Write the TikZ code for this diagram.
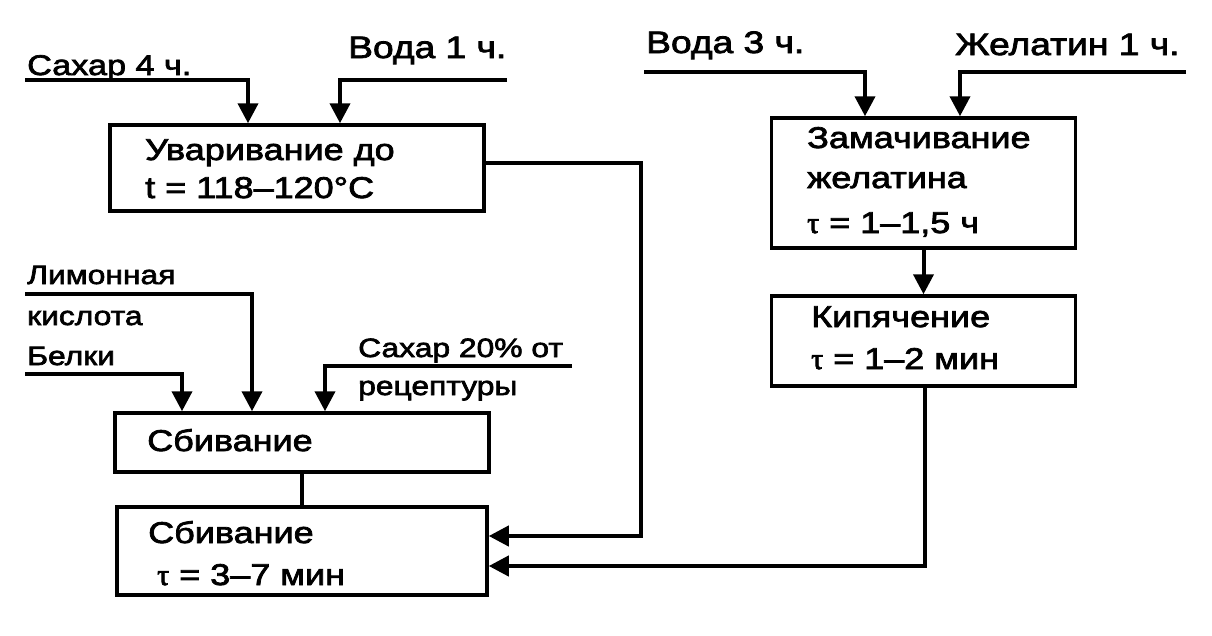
\documentclass[tikz,border=0pt]{standalone}
\usepackage{fontspec}
\setmainfont{Liberation Sans}[FakeStretch=1.2,FakeBold=2.5]
\newfontfamily\taufont{Liberation Serif}[FakeBold=2.5]
\usetikzlibrary{arrows.meta}
\newcommand{\tauchar}{{\taufont τ}}
\begin{document}
\begin{tikzpicture}[x=1pt,y=-1pt,
  box/.style={draw,rectangle,line width=3.5pt,inner sep=0pt},
  arr/.style={line width=4pt,-{Triangle[length=20pt,width=20pt]}},
  ln/.style={line width=4pt},
  lbl/.style={anchor=base west,inner sep=0pt,font=\fontsize{30}{36}\selectfont},
  blbl/.style={anchor=base west,inner sep=0pt,font=\fontsize{31}{37}\selectfont},
  mlbl/.style={anchor=base west,inner sep=0pt,font=\fontsize{28.5}{34}\selectfont},
  slbl/.style={anchor=base west,inner sep=0pt,font=\fontsize{26.5}{32}\selectfont}]
\useasboundingbox[fill=white] (0,0) rectangle (1212,635);

% boxes
\node[box,minimum width=374pt,minimum height=86pt] (b1) at (297,168) {};
\node[box,minimum width=304pt,minimum height=130pt] (b2) at (923.5,183) {};
\node[box,minimum width=304pt,minimum height=90pt] (b3) at (923.5,341) {};
\node[box,minimum width=374pt,minimum height=59pt] (b4) at (302,442.5) {};
\node[box,minimum width=370pt,minimum height=88pt] (b5) at (302,551) {};

% box texts
\node[lbl] (t11) at (145,160) {Уваривание до};
\node[lbl] (t12) at (145,198) {t = 118–120°C};
\node[lbl] (t21) at (807,148) {Замачивание};
\node[lbl] (t22) at (807,188) {желатина};
\node[lbl] (t23) at (807,233) {\tauchar\ = 1–1,5 ч};
\node[lbl] (t31) at (811,327) {Кипячение};
\node[lbl] (t32) at (811,369) {\tauchar\ = 1–2 мин};
\node[lbl] (t41) at (147,451) {Сбивание};
\node[lbl] (t51) at (148,543) {Сбивание};
\node[lbl] (t52) at (157,585) {\tauchar\ = 3–7 мин};

% input labels
\node[mlbl] (l1) at (27,75) {Сахар 4 ч.};
\node[blbl] (l2) at (348,58) {Вода 1 ч.};
\node[blbl] (l3) at (646,53) {Вода 3 ч.};
\node[blbl] (l4) at (955,55) {Желатин 1 ч.};
\node[slbl] (l5) at (27,284) {Лимонная};
\node[slbl] (l6) at (27,325) {кислота};
\node[slbl] (l7) at (27,365) {Белки};
\node[slbl] (l8) at (358,357) {Сахар 20\% от};
\node[slbl] (l9) at (358,395) {рецептуры};

% free ends
\coordinate (s4) at (25,80);
\coordinate (w1) at (507,80);
\coordinate (w3) at (644,72);
\coordinate (g1) at (1186,72);
\coordinate (lk) at (25,294);
\coordinate (bk) at (25,374);
\coordinate (s20) at (572,366);
\coordinate (c1) at (641,536);

% connectors
\draw[arr] (s4) -| (248,0 |- b1.north);
\draw[arr] (w1) -| (340,0 |- b1.north);
\draw[arr] (w3) -| (865,0 |- b2.north);
\draw[arr] (g1) -| (960,0 |- b2.north);
\draw[arr] (b2.south) -- (b3.north);
\draw[arr] (lk) -| (252,0 |- b4.north);
\draw[arr] (bk) -| (182,0 |- b4.north);
\draw[arr] (s20) -| (325,0 |- b4.north);
\draw[ln] (b4.south) -- (b5.north);
\draw[arr] (b1.east |- 0,163) -| (c1) -- (b5.east |- c1);
\draw[arr] (925,0 |- b3.south) |- (b5.east |- 0,566);
\end{tikzpicture}
\end{document}
